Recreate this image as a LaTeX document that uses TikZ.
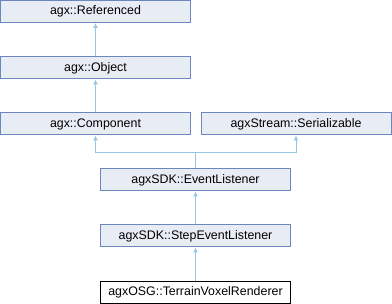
\documentclass[tikz,border=0pt]{standalone}
\usepackage{fontspec}
\setmainfont{Liberation Sans}
\usetikzlibrary{arrows.meta}
\definecolor{boxfill}{RGB}{232,236,245}
\definecolor{boxline}{RGB}{108,135,191}
\definecolor{edgeblue}{RGB}{150,198,230}
\begin{document}
\begin{tikzpicture}[x=1pt, y=1pt,
  every node/.style={font=\fontsize{12.4}{14}\selectfont},
  cls/.style={draw=boxline, fill=boxfill, line width=1pt, minimum width=190pt, minimum height=22pt, inner sep=0pt},
  self/.style={cls, draw=black, fill=white},
  inh/.style={draw=edgeblue, line width=1pt, -{Latex[length=5pt, width=5pt]}}]
  \useasboundingbox (0,0) rectangle (392,-304);

  \node[cls]  (ref)  at (95.5,-11.5)  {agx::Referenced};
  \node[cls]  (obj)  at (95.5,-68)    {agx::Object};
  \node[cls]  (comp) at (95.5,-124)   {agx::Component};
  \node[cls]  (ser)  at (296,-124)    {agxStream::Serializable};
  \node[cls]  (evl)  at (195.5,-180)  {agxSDK::EventListener};
  \node[cls]  (sel)  at (195.5,-236)  {agxSDK::StepEventListener};
  \node[self] (tvr)  at (195.5,-292.5){agxOSG::TerrainVoxelRenderer};

  \draw[inh] (obj.north) -- (ref.south);
  \draw[inh] (comp.north) -- (obj.south);
  \draw[inh] (evl.north) -- ++(0,16) -| (comp.south);
  \draw[inh] (evl.north) -- ++(0,16) -| (ser.south);
  \draw[inh] (sel.north) -- (evl.south);
  \draw[inh] (tvr.north) -- (sel.south);
\end{tikzpicture}
\end{document}
